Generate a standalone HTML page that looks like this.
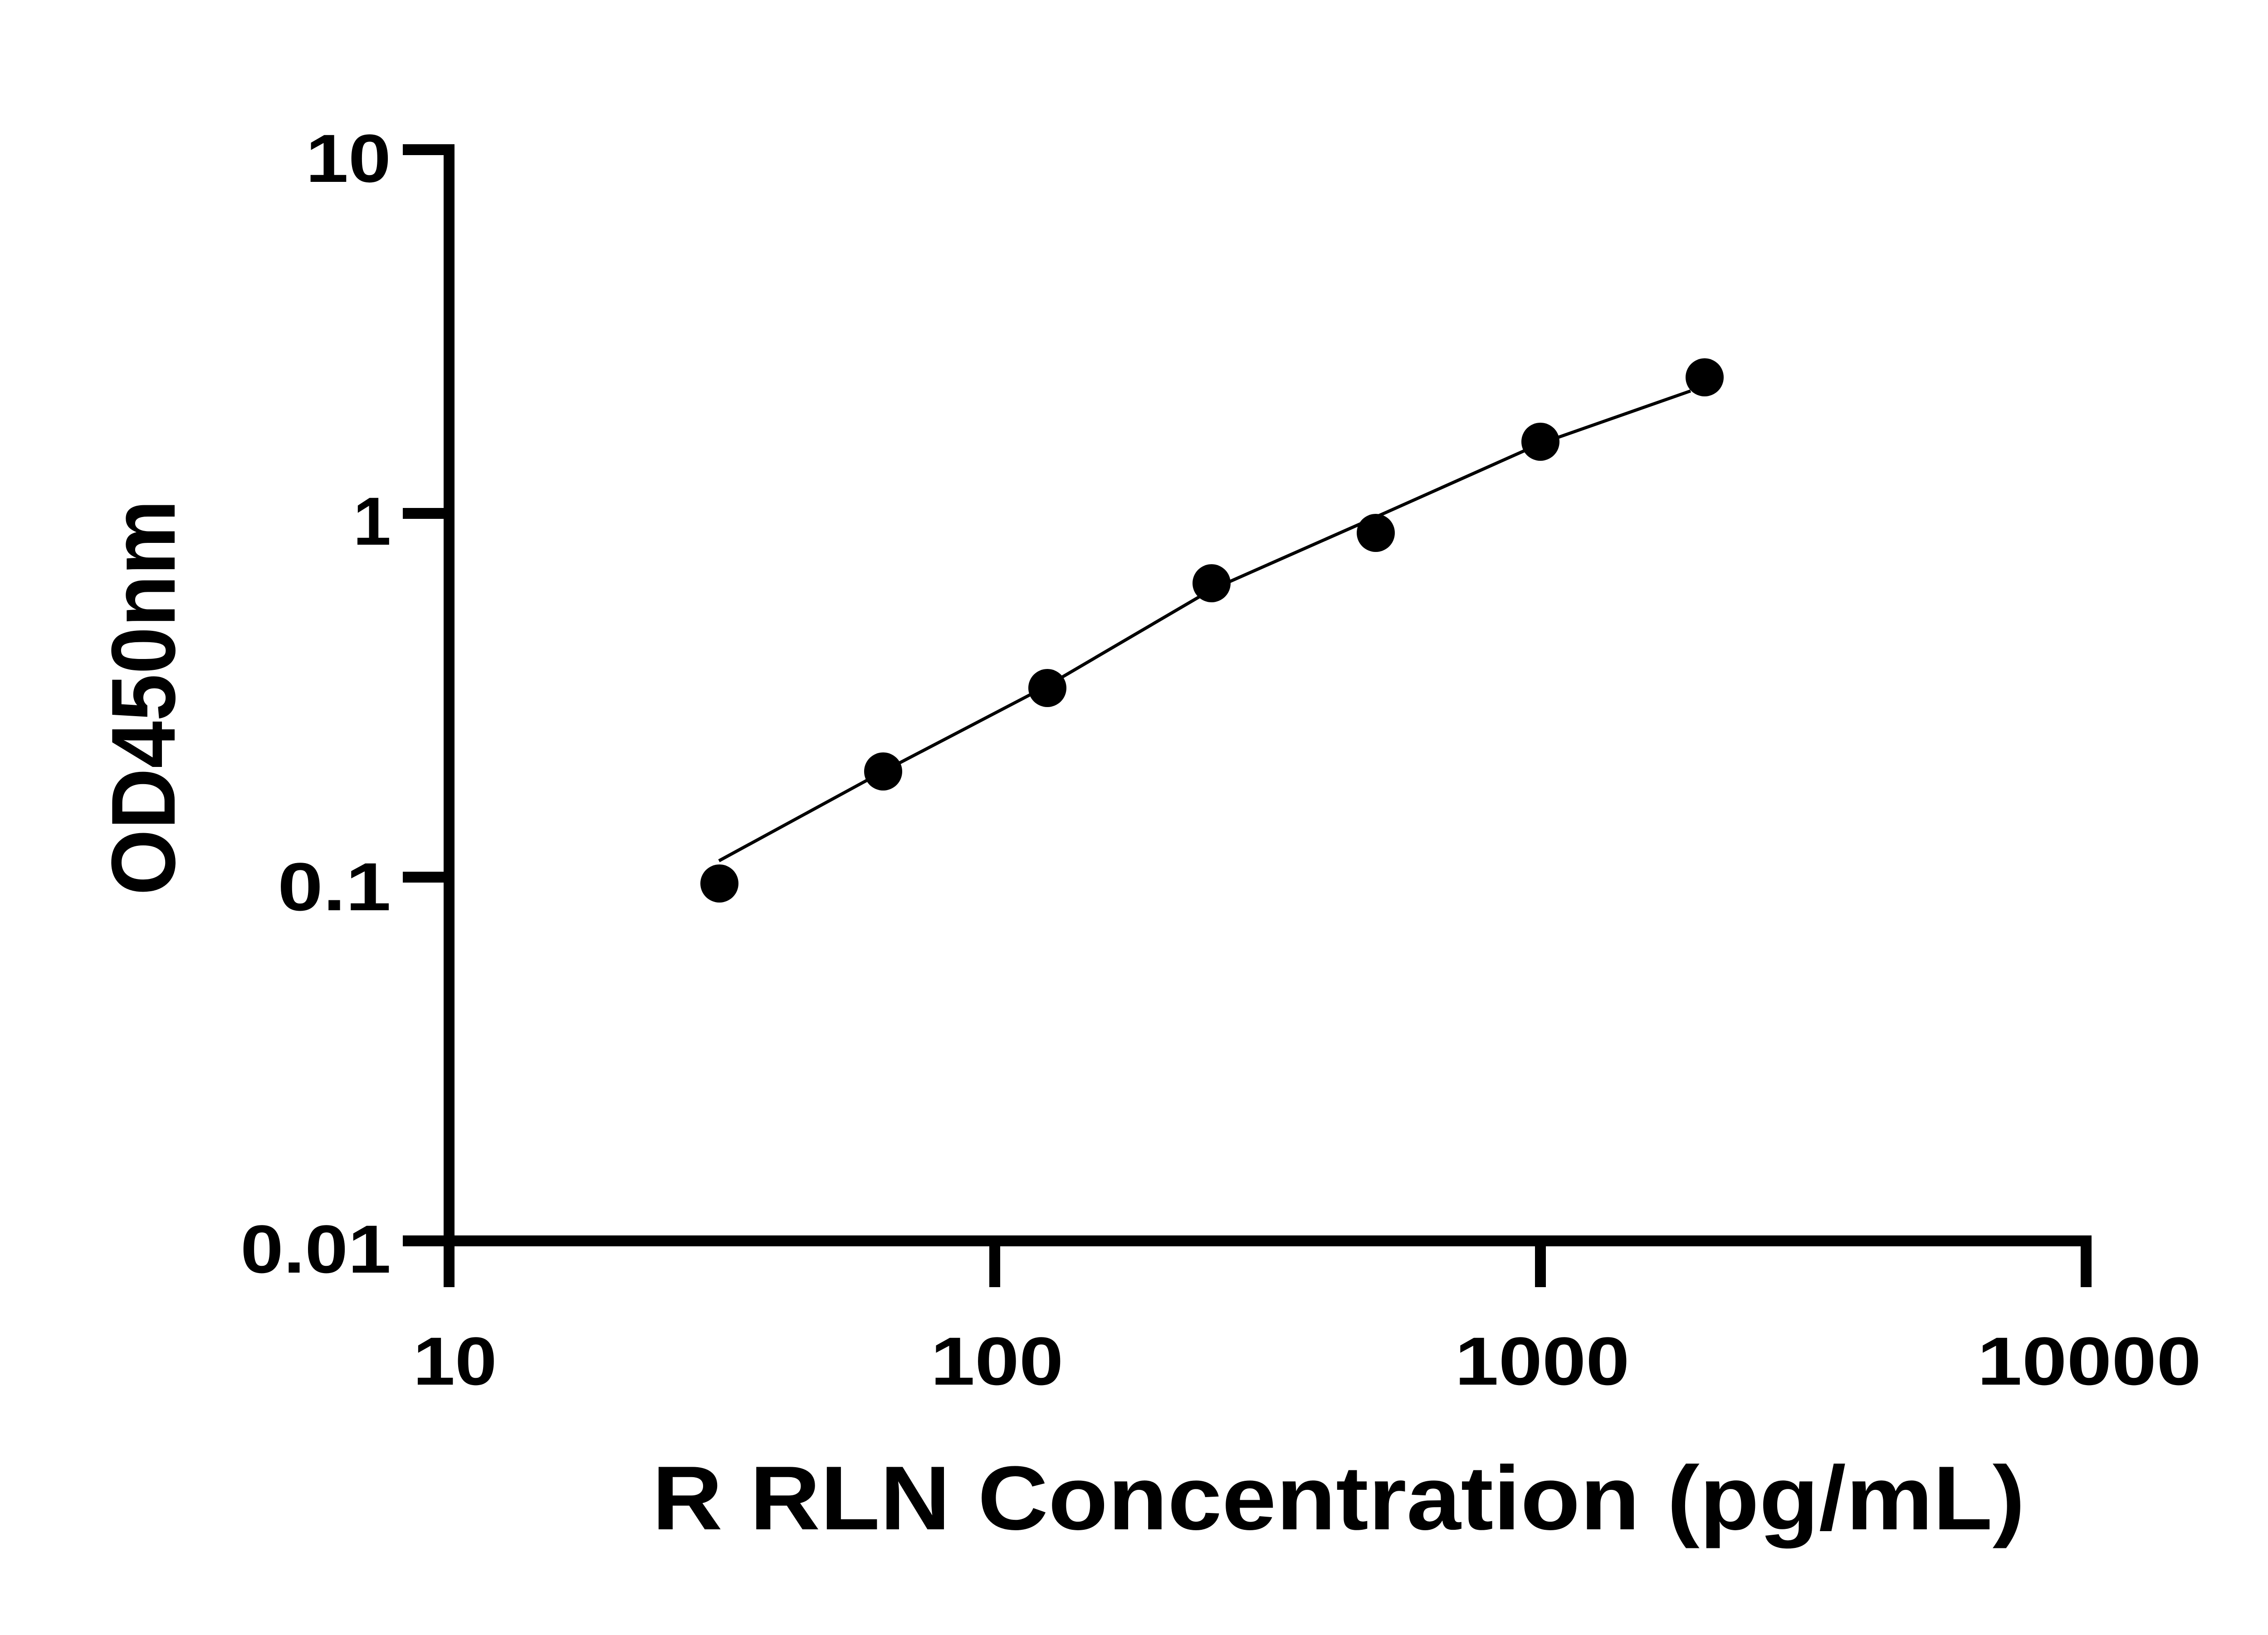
<!DOCTYPE html>
<html><head><style>html,body{margin:0;padding:0;background:#fff}</style></head><body>
<svg width="5142" height="3600" viewBox="0 0 5142 3600" xmlns="http://www.w3.org/2000/svg" font-family="Liberation Sans, Arial, sans-serif" font-weight="bold">
<rect width="5142" height="3600" fill="#fff"/>
<g stroke="#000" stroke-width="24" fill="none">
<line x1="990" y1="318" x2="990" y2="2838"/>
<line x1="978" y1="2736" x2="4611" y2="2736"/>
<line x1="888" y1="330" x2="990" y2="330"/>
<line x1="888" y1="1132" x2="990" y2="1132"/>
<line x1="888" y1="1934" x2="990" y2="1934"/>
<line x1="888" y1="2736" x2="990" y2="2736"/>
<line x1="2193" y1="2736" x2="2193" y2="2838"/>
<line x1="3396" y1="2736" x2="3396" y2="2838"/>
<line x1="4599" y1="2736" x2="4599" y2="2838"/>
</g>
<polyline fill="none" stroke="#000" stroke-width="7" points="1585,1898 1947,1701 2309,1512 2671,1300 3033,1140 3396,978 3727,862"/>
<g fill="#000">
<circle cx="1586" cy="1948" r="42"/>
<circle cx="1947" cy="1701" r="42"/>
<circle cx="2309" cy="1517" r="42"/>
<circle cx="2671" cy="1286" r="42"/>
<circle cx="3033" cy="1175" r="42"/>
<circle cx="3396" cy="974" r="42"/>
<circle cx="3758" cy="832" r="42"/>
</g>
<g font-size="150" text-anchor="end">
<text x="862" y="401" textLength="188" lengthAdjust="spacingAndGlyphs">10</text>
<text x="862" y="1201">1</text>
<text x="862" y="2007" textLength="250" lengthAdjust="spacingAndGlyphs">0.1</text>
<text x="862" y="2806" textLength="332" lengthAdjust="spacingAndGlyphs">0.01</text>
</g>
<g font-size="150" text-anchor="middle">
<text x="1003" y="3053" textLength="185" lengthAdjust="spacingAndGlyphs">10</text>
<text x="2198" y="3053" textLength="293" lengthAdjust="spacingAndGlyphs">100</text>
<text x="3400" y="3053" textLength="385" lengthAdjust="spacingAndGlyphs">1000</text>
<text x="4606" y="3053" textLength="494" lengthAdjust="spacingAndGlyphs">10000</text>
</g>
<text x="2951" y="3372" font-size="200" text-anchor="middle" textLength="3027" lengthAdjust="spacingAndGlyphs">R RLN Concentration (pg/mL)</text>
<text transform="translate(385,1538) rotate(-90)" font-size="200" text-anchor="middle" textLength="872" lengthAdjust="spacingAndGlyphs">OD450nm</text>
</svg>
</body></html>
